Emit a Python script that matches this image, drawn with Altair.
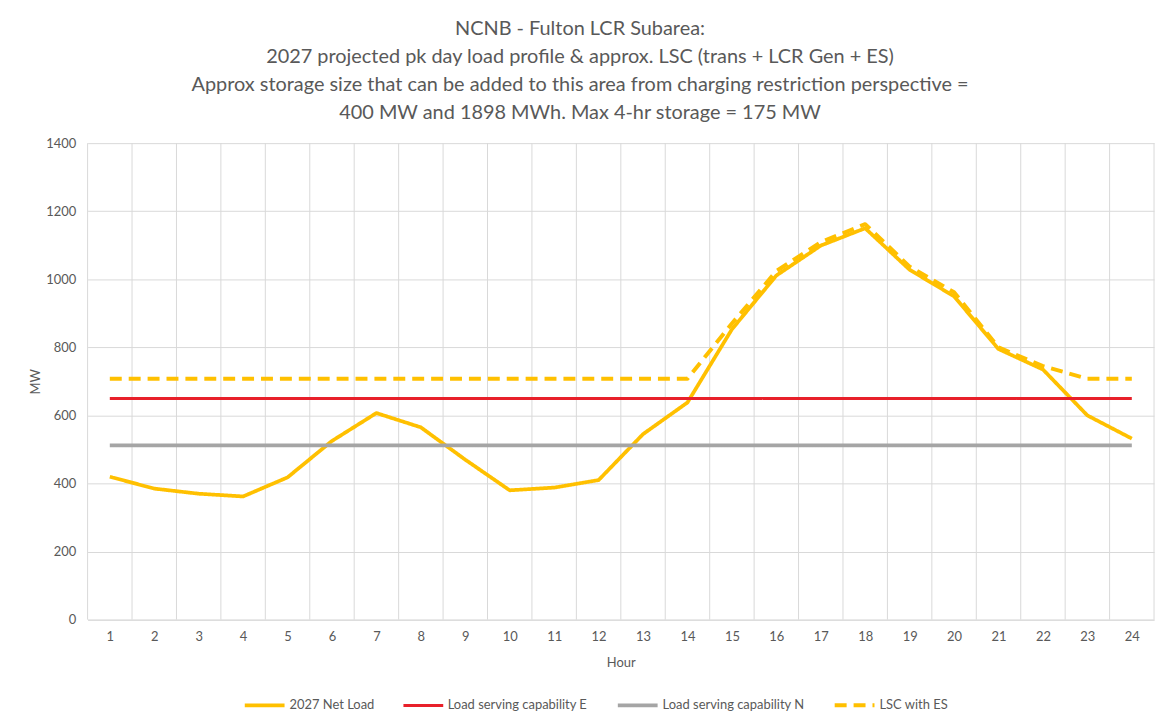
import altair as alt
import pandas as pd

hours = list(range(1, 25))
net_load = [420, 385, 370, 362, 418, 525, 607, 565, 470, 380, 388, 410,
            545, 638, 853, 1011, 1099, 1150, 1028, 950, 795, 735, 600, 532]
lsc_e = [650] * 24
lsc_n = [512] * 24
lsc_es = [708] * 14 + [870, 1024, 1109, 1162, 1037, 962, 800, 745, 708, 708]

series_names = ["2027 Net Load", "Load serving capability E",
                "Load serving capability N", "LSC with ES"]
series_colors = ["#FFC000", "#E8202A", "#A5A5A5", "#FFC000"]
series_dash = [[1, 0], [1, 0], [1, 0], [12, 7]]
series_width = [3.75, 3.0, 3.75, 4.0]

title_lines = ["NCNB - Fulton LCR Subarea:",
               "2027 projected pk day load profile & approx. LSC (trans + LCR Gen + ES)",
               "Approx storage size that can be added to this area from charging restriction perspective =",
               "400 MW and 1898 MWh. Max 4-hr storage = 175 MW"]

rows = []
for name, vals in zip(series_names, [net_load, lsc_e, lsc_n, lsc_es]):
    for h, v in zip(hours, vals):
        rows.append({"Hour": h, "MW": v, "Series": name})
df = pd.DataFrame(rows)

grid_df = pd.DataFrame({"Hour": [h - 0.5 for h in hours] + [hours[-1] + 0.5]})

FONT = "Lato"
TXT = "#595959"
GRID = "#D9D9D9"

xscale = alt.Scale(domain=[0.5, 24.5], nice=False, zero=False)
xaxis = alt.Axis(values=hours, grid=False, ticks=False, domain=True,
                 domainColor=GRID, title="Hour", labelPadding=11,
                 titlePadding=13, labelFlush=False, format="d")

vgrid = alt.Chart(grid_df).mark_rule(color=GRID, strokeWidth=1).encode(
    x=alt.X("Hour:Q", scale=xscale, axis=xaxis)
)

lines = alt.Chart(df).mark_line(strokeCap="butt", strokeJoin="round").encode(
    x=alt.X("Hour:Q", scale=xscale, axis=xaxis),
    y=alt.Y("MW:Q", scale=alt.Scale(domain=[0, 1400], nice=False),
            axis=alt.Axis(values=list(range(0, 1401, 200)), grid=True, gridColor=GRID,
                          ticks=False, domain=False, title="MW", labelPadding=12,
                          titlePadding=3, format="d")),
    color=alt.Color("Series:N", scale=alt.Scale(domain=series_names, range=series_colors),
                    legend=alt.Legend(title=None, orient="none", direction="horizontal",
                                      legendX=156, legendY=543, symbolType="stroke",
                                      symbolSize=1600, symbolStrokeWidth=3.75,
                                      labelFontSize=13, labelColor=TXT, labelFont=FONT,
                                      columnPadding=22, labelOffset=3)),
    strokeDash=alt.StrokeDash("Series:N", scale=alt.Scale(domain=series_names, range=series_dash)),
    strokeWidth=alt.StrokeWidth("Series:N",
                                scale=alt.Scale(type="ordinal", domain=series_names, range=series_width),
                                legend=None),
    detail="Series:N",
)

chart = alt.layer(vgrid, lines).properties(
    width=1072, height=479,
    autosize=alt.AutoSizeParams(type="none"),
    padding={"left": 80, "top": 134, "right": 5, "bottom": 95},
    background="white",
    title=alt.TitleParams(text=title_lines, fontSize=20, fontWeight="normal", color=TXT,
                          font=FONT, anchor="middle", lineHeight=28.2, offset=14, dx=-41),
).configure_view(stroke=None).configure_axis(
    labelFont=FONT, titleFont=FONT, labelColor=TXT, titleColor=TXT,
    labelFontSize=13, titleFontSize=13, titleFontWeight="normal"
)

chart.save("out.html", embed_options={"renderer": "svg", "actions": False})
